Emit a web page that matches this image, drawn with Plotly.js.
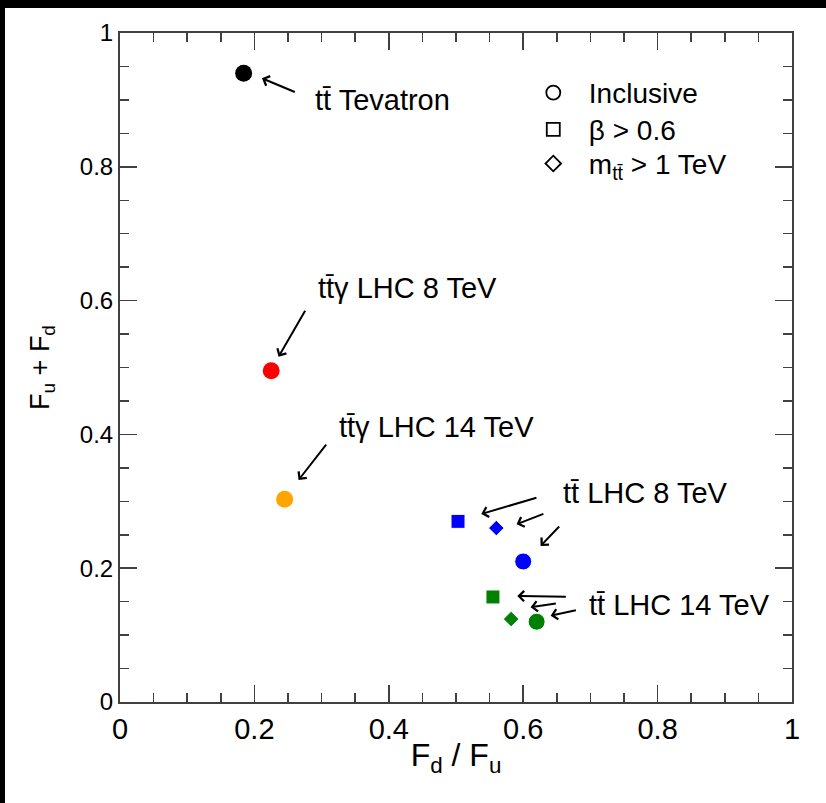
<!DOCTYPE html>
<html>
<head>
<meta charset="utf-8">
<script src="https://cdn.plot.ly/plotly-3.0.1.min.js"></script>
<style>
html,body{margin:0;padding:0;background:#fff;width:826px;height:803px;overflow:hidden;}
#plot{position:absolute;left:5px;top:8px;width:821px;height:795px;background:#fff;}
#bt{position:absolute;left:0;top:0;width:826px;height:8px;background:#000;}
#bl{position:absolute;left:0;top:0;width:5px;height:803px;background:#000;}
</style>
</head>
<body>
<div id="plot"></div>
<div id="bt"></div>
<div id="bl"></div>
<script>
// Data
const singleLabels = ['t\u0074\u0304 Tevatron', 't\u0074\u0304\u03b3 LHC 8 TeV', 't\u0074\u0304\u03b3 LHC 14 TeV'];
const singleX = [0.184, 0.225, 0.245];
const singleY = [0.94, 0.495, 0.303];
const singleColors = ['#000000', '#ff0000', '#ffa500'];

const groupLabels = ['t\u0074\u0304 LHC 8 TeV', 't\u0074\u0304 LHC 14 TeV'];
const cutNames = ['Inclusive', '\u03b2 > 0.6', 'm<sub>t\u0074\u0304</sub> > 1 TeV'];
const cutSymbols = ['circle', 'square', 'diamond'];

const lhc8X = [0.600, 0.503, 0.560];
const lhc8Y = [0.210, 0.270, 0.260];
const lhc14X = [0.620, 0.555, 0.582];
const lhc14Y = [0.120, 0.157, 0.124];

const xTicks = [0, 0.2, 0.4, 0.6, 0.8, 1];
const yTicks = [0, 0.2, 0.4, 0.6, 0.8, 1];

const symSize = {circle: 17, square: 14, diamond: 12};
const legSize = {circle: 14, square: 13, diamond: 12};
const legendIds = ['legend', 'legend2', 'legend3'];

const traces = [];
singleX.forEach((x, i) => {
  traces.push({x: [x], y: [singleY[i]], type: 'scatter', mode: 'markers', showlegend: false,
    marker: {symbol: 'circle', size: 17, color: singleColors[i], opacity: 1}, hoverinfo: 'skip'});
});
traces.push({x: lhc8X, y: lhc8Y, type: 'scatter', mode: 'markers', showlegend: false,
  marker: {symbol: cutSymbols, size: cutSymbols.map(s => symSize[s]), color: '#0000ff', opacity: 1}});
traces.push({x: lhc14X, y: lhc14Y, type: 'scatter', mode: 'markers', showlegend: false,
  marker: {symbol: cutSymbols, size: cutSymbols.map(s => symSize[s]), color: '#008000', opacity: 1}});
cutNames.forEach((n, i) => {
  traces.push({x: [null], y: [null], type: 'scatter', mode: 'markers', name: '\u00a0\u00a0' + n,
    legend: legendIds[i],
    marker: {symbol: cutSymbols[i] + '-open', size: legSize[cutSymbols[i]], color: '#000', opacity: 1,
      line: {color: '#000', width: 1.8}}});
});

const fs = 29;
const txtFont = {family: 'Liberation Sans, Arial, sans-serif', size: fs, color: '#000'};
function arrow(tx, ty, hx, hy) {
  return {x: hx, y: hy, ax: tx, ay: ty, xref: 'x', yref: 'y', axref: 'x', ayref: 'y',
    text: '', showarrow: true, arrowhead: 4, arrowsize: 1, arrowwidth: 2, arrowcolor: '#000', standoff: 0};
}
function label(t, x, y) {
  return {x: x, y: y, xref: 'x', yref: 'y', text: t, showarrow: false, xanchor: 'left', yanchor: 'middle', font: txtFont};
}
const annotations = [
  label(singleLabels[0], 0.2876, 0.900),
  arrow(0.2623, 0.9108, 0.2112, 0.9323),
  label(singleLabels[1], 0.2921, 0.619),
  arrow(0.2768, 0.587, 0.2359, 0.5161),
  label(singleLabels[2], 0.3234, 0.411),
  arrow(0.3085, 0.3871, 0.2657, 0.3318),
  label(groupLabels[0], 0.6557, 0.3124),
  arrow(0.6219, 0.306, 0.5376, 0.281),
  arrow(0.6323, 0.2821, 0.5902, 0.2656),
  arrow(0.6557, 0.2646, 0.6259, 0.2332),
  label(groupLabels[1], 0.6955, 0.145),
  arrow(0.6657, 0.1574, 0.5912, 0.1584),
  arrow(0.6508, 0.1475, 0.611, 0.1416),
  arrow(0.6806, 0.1375, 0.6408, 0.129)
];

const axisCommon = {
  range: [0, 1], showgrid: false, zeroline: false, showline: true, linecolor: '#404040', linewidth: 2,
  mirror: 'ticks', ticks: 'inside', ticklen: 17, tickwidth: 1.5, tickcolor: '#404040',
  minor: {dtick: 0.05, ticks: 'inside', ticklen: 9, tickwidth: 1.5, tickcolor: '#404040', showgrid: false},
  fixedrange: true
};

const legFont = {family: 'Liberation Sans, Arial, sans-serif', size: 28, color: '#000'};
function legBox(yc) {
  return {x: 0.615, y: yc, xanchor: 'left', yanchor: 'middle', bgcolor: 'rgba(0,0,0,0)',
    font: legFont, itemsizing: 'trace', tracegroupgap: 0};
}

const narrow = 'Liberation Sans Narrow, Arial Narrow, Liberation Sans, sans-serif';
const layout = {
  width: 821, height: 795,
  margin: {l: 115, r: 34, t: 25, b: 101},
  paper_bgcolor: '#fff', plot_bgcolor: '#fff',
  showlegend: true,
  legend: legBox(0.9105),
  legend2: legBox(0.8555),
  legend3: legBox(0.8045),
  xaxis: Object.assign({}, axisCommon, {
    tickvals: xTicks, ticktext: xTicks.map(String),
    tickfont: {family: narrow, size: 29, color: '#000'},
    title: {text: 'F<sub>d</sub> / F<sub>u</sub>', standoff: 0,
      font: {family: narrow, size: 32, color: '#000'}}
  }),
  yaxis: Object.assign({}, axisCommon, {
    tickvals: yTicks, ticktext: yTicks.map(String),
    tickfont: {family: 'Liberation Sans, Arial, sans-serif', size: 24, color: '#000'},
    title: {text: 'F<sub>u</sub> + F<sub>d</sub>', standoff: 22,
      font: {family: 'Liberation Sans, Arial, sans-serif', size: 27, color: '#000'}}
  }),
  annotations: annotations
};

Plotly.newPlot('plot', traces, layout, {displayModeBar: false, staticPlot: true});
</script>
</body>
</html>
